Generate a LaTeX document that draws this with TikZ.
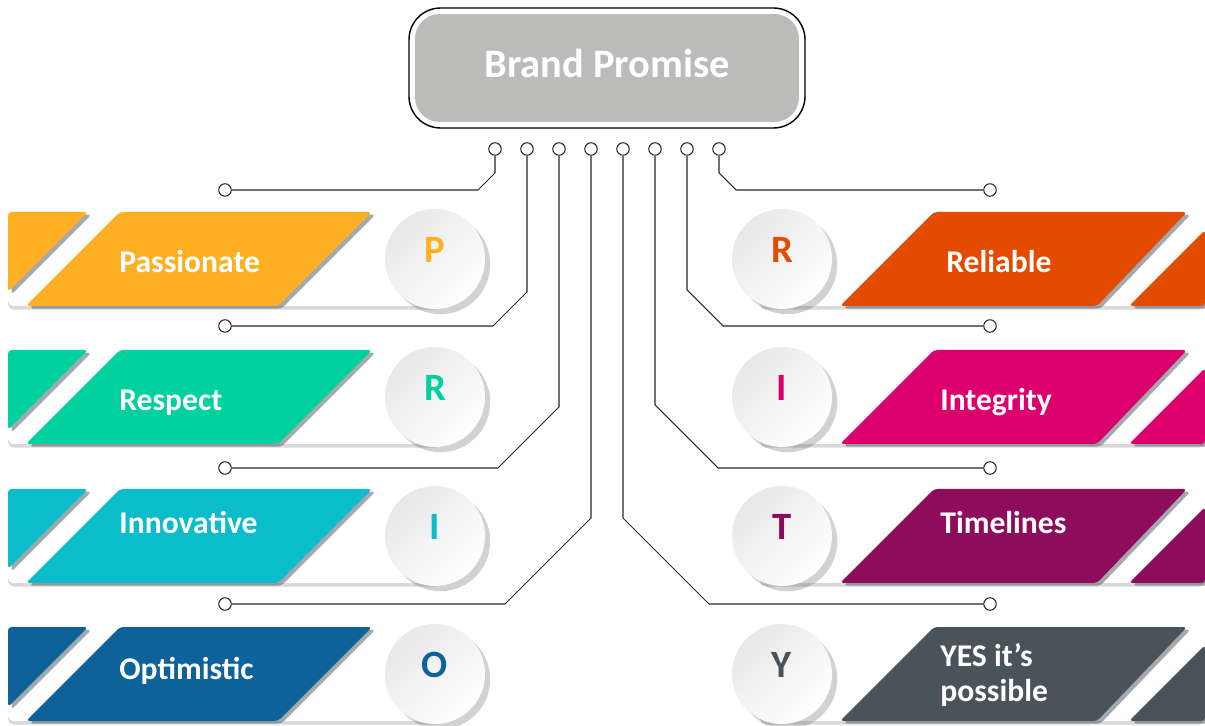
\documentclass[tikz,border=0pt]{standalone}
\usepackage{fontspec}
\setmainfont{Carlito}
\usetikzlibrary{shadows}
\definecolor{cPas}{HTML}{FDB022}
\definecolor{cRes}{HTML}{00D19F}
\definecolor{cInn}{HTML}{0BBCCB}
\definecolor{cOpt}{HTML}{0D6399}
\definecolor{cRel}{HTML}{E34B01}
\definecolor{cInt}{HTML}{DC006E}
\definecolor{cTim}{HTML}{8D0D5C}
\definecolor{cYes}{HTML}{4A5359}
\definecolor{cBox}{HTML}{BBBBBA}
\definecolor{cShd}{HTML}{5A646E}

\begin{document}
\begin{tikzpicture}[x=0.02cm, y=-0.02cm,
  wire/.style={black!85, line width=0.6pt},
  dot/.style={circle, draw=black!85, fill=white, line width=0.6pt, minimum size=0.25cm, inner sep=0pt},
  word/.style={anchor=base west, text=white, font=\bfseries\fontsize{18}{20}\selectfont, inner sep=0pt, align=left},
  badge/.style={circle, minimum size=2cm, inner sep=0pt, text depth=0.35cm, top color=black!9, bottom color=white, shading angle=45, drop shadow={shadow xshift=3pt, shadow yshift=-3pt, opacity=.25, fill=black!70}, font=\bfseries\fontsize{22}{22}\selectfont},
  base/.style={fill=white, drop shadow={shadow xshift=0pt, shadow yshift=-2pt, opacity=.3}},
  piece/.style={rounded corners=2, drop shadow={shadow xshift=2pt, shadow yshift=-1.5pt, opacity=.55, fill=cShd}}]
\useasboundingbox (0,0) rectangle (1205,726);

\draw[black, line width=0.8pt, rounded corners=18, fill=white] (409,8) rectangle (805,128);
\node[fill=cBox, rounded corners=14, minimum width=7.68cm, minimum height=2.16cm, text depth=0.2cm, text=white, font=\bfseries\fontsize{23}{23}\selectfont] (brand) at (607,68) {Brand Promise};

\foreach \t/\c/\w/\l/\b [count=\i] in {212/cPas/Passionate/P/273, 350/cRes/Respect/R/411, 489/cInn/Innovative/I/534, 627/cOpt/Optimistic/O/680}{
  \fill[base, rounded corners=3] (8,\t) rectangle (440,\t+94);
  \fill[\c, piece] (8,\t) -- (88,\t) -- (8,\t+80) -- cycle;
  \fill[\c, piece] (120,\t) -- (372,\t) -- (278,\t+94) -- (26,\t+94) -- cycle;
  \node[word] (wl\i) at (119,\b) {\w};
  \node[badge, text=\c] (bl\i) at (435,\t+47) {\l};
}
\foreach \t/\c/\w/\l/\x/\b [count=\i] in {212/cRel/Reliable/R/946/273, 350/cInt/Integrity/I/940/411, 489/cTim/Timelines/T/940/534, 627/cYes/{YES it's\\possible}/Y/940/702}{
  \fill[base, rounded corners=3] (760,\t) rectangle (1205,\t+94);
  \fill[\c, piece] (934,\t) -- (1187,\t) -- (1097,\t+94) -- (840,\t+94) -- cycle;
  \fill[\c, piece] (1205,\t+18) -- (1205,\t+94) -- (1129,\t+94) -- cycle;
  \node[word] (wr\i) at (\x,\b) {\w};
  \node[badge, text=\c] (br\i) at (782,\t+47) {\l};
}

\foreach \k in {1,...,8}
  \node[dot] (t\k) at (463+32*\k,149) {};
\node[dot] (e1) at (225,190) {};
\node[dot] (e2) at (225,326) {};
\node[dot] (e3) at (225,468) {};
\node[dot] (e4) at (225,604) {};
\node[dot] (e5) at (990,604) {};
\node[dot] (e6) at (990,468) {};
\node[dot] (e7) at (990,326) {};
\node[dot] (e8) at (990,190) {};

\draw[wire] (t1) -- (495,173) -- (478,190) -- (e1);
\draw[wire] (t2) -- (527,292) -- (493,326) -- (e2);
\draw[wire] (t3) -- (559,407) -- (498,468) -- (e3);
\draw[wire] (t4) -- (591,518) -- (505,604) -- (e4);
\draw[wire] (t5) -- (623,518) -- (709,604) -- (e5);
\draw[wire] (t6) -- (655,405) -- (718,468) -- (e6);
\draw[wire] (t7) -- (687,290) -- (723,326) -- (e7);
\draw[wire] (t8) -- (719,173) -- (736,190) -- (e8);
\end{tikzpicture}
\end{document}
